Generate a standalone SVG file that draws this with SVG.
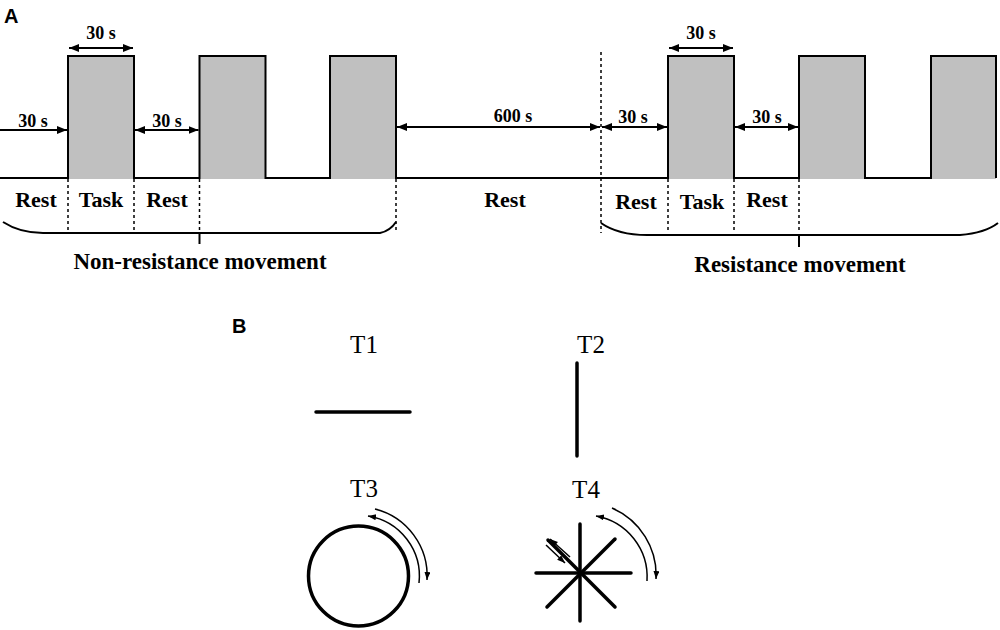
<svg xmlns="http://www.w3.org/2000/svg" width="1000" height="630" viewBox="0 0 1000 630">
<style>
.lbl{font-family:"Liberation Serif","Times New Roman",serif;font-weight:bold;fill:#000}
.dur{font-size:18px;text-anchor:middle}
.phase{font-size:22px;text-anchor:middle}
.cond{font-size:23px;text-anchor:middle}
.panel{font-family:"Liberation Sans",Arial,sans-serif;font-weight:bold;font-size:20px;fill:#000}
.tl{font-family:"Liberation Serif","Times New Roman",serif;font-size:25px;text-anchor:middle;fill:#000}
.arr{stroke:#000;stroke-width:2;fill:none}
.dot{stroke:#000;stroke-width:1.5;stroke-dasharray:3,3;fill:none}
.brace{stroke:#000;stroke-width:2;fill:none}
.task{fill:#c0c0c0;stroke:none}
.thick{stroke:#000;stroke-width:3.5;fill:none;stroke-linecap:round}
.thin{stroke:#000;stroke-width:1.5;fill:none}
</style>
<defs>
<marker id="ah" markerUnits="userSpaceOnUse" markerWidth="12" markerHeight="10" refX="10" refY="4" orient="auto-start-reverse">
<path d="M0,0 L10,4 L0,8 z" fill="#000"/>
</marker>
<marker id="ahs" markerUnits="userSpaceOnUse" markerWidth="10" markerHeight="8" refX="8" refY="3" orient="auto">
<path d="M0,0 L8,3 L0,6 z" fill="#000"/>
</marker>
</defs>
<rect width="1000" height="630" fill="#fff"/>
<text class="panel" x="4" y="23">A</text>
<text class="panel" x="232" y="333">B</text>
<g id="signal">
<rect class="task" x="68" y="56" width="66" height="123"/>
<rect class="task" x="199.5" y="56" width="66" height="123"/>
<rect class="task" x="330" y="56" width="66" height="123"/>
<rect class="task" x="668" y="56" width="66" height="123"/>
<rect class="task" x="799" y="56" width="66" height="123"/>
<rect class="task" x="931" y="56" width="65" height="123"/>
<path d="M0,178 H68 V56 H134 V178 H199.5 V56 H265.5 V178 H330 V56 H396 V178 H668 V56 H734 V178 H799 V56 H865 V178 H931 V56 H996 V178" stroke="#000" stroke-width="2" fill="none"/>
</g>
<g id="connectors">
<line class="arr" x1="0" y1="130" x2="67" y2="130" marker-end="url(#ah)"/>
<line class="arr" x1="69" y1="48" x2="133" y2="48" marker-start="url(#ah)" marker-end="url(#ah)"/>
<line class="arr" x1="135" y1="130" x2="198.5" y2="130" marker-start="url(#ah)" marker-end="url(#ah)"/>
<line class="arr" x1="397" y1="127" x2="600" y2="127" marker-start="url(#ah)" marker-end="url(#ah)"/>
<line class="arr" x1="602" y1="127" x2="667" y2="127" marker-start="url(#ah)" marker-end="url(#ah)"/>
<line class="arr" x1="669" y1="48" x2="733" y2="48" marker-start="url(#ah)" marker-end="url(#ah)"/>
<line class="arr" x1="735" y1="127" x2="798" y2="127" marker-start="url(#ah)" marker-end="url(#ah)"/>
<line class="dot" x1="68" y1="179" x2="68" y2="233"/>
<line class="dot" x1="134" y1="179" x2="134" y2="233"/>
<line class="dot" x1="199.5" y1="179" x2="199.5" y2="233"/>
<line class="dot" x1="396" y1="179" x2="396" y2="233"/>
<line class="dot" x1="601" y1="52" x2="601" y2="233"/>
<line class="dot" x1="668" y1="179" x2="668" y2="233"/>
<line class="dot" x1="734" y1="179" x2="734" y2="233"/>
<line class="dot" x1="799" y1="179" x2="799" y2="233"/>
<path class="brace" d="M3,222 Q20,233 43,233 H380 Q390,231 396,222"/>
<line class="brace" x1="199.5" y1="233" x2="199.5" y2="244"/>
<path class="brace" d="M601,223 Q618,235 647,235 H960 Q985,233 998,223"/>
<line class="brace" x1="799" y1="235" x2="799" y2="247"/>
</g>
<g id="labels-a">
<text class="lbl dur" x="101" y="39">30 s</text>
<text class="lbl dur" x="33" y="127">30 s</text>
<text class="lbl dur" x="167" y="127">30 s</text>
<text class="lbl dur" x="513" y="122">600 s</text>
<text class="lbl dur" x="633" y="123">30 s</text>
<text class="lbl dur" x="701" y="39">30 s</text>
<text class="lbl dur" x="767" y="123">30 s</text>
<text class="lbl phase" x="36" y="207">Rest</text>
<text class="lbl phase" x="101" y="207">Task</text>
<text class="lbl phase" x="167" y="207">Rest</text>
<text class="lbl phase" x="505" y="207">Rest</text>
<text class="lbl phase" x="636" y="209">Rest</text>
<text class="lbl phase" x="702" y="209">Task</text>
<text class="lbl phase" x="767" y="207">Rest</text>
<text class="lbl cond" x="200" y="269">Non-resistance movement</text>
<text class="lbl cond" x="800" y="272">Resistance movement</text>
</g>
<g id="T1">
<text class="tl" x="364" y="353">T1</text>
<line class="thick" x1="316" y1="412" x2="410" y2="412"/>
</g>
<g id="T2">
<text class="tl" x="591" y="353">T2</text>
<line class="thick" x1="577" y1="363" x2="577" y2="456"/>
</g>
<g id="T3">
<text class="tl" x="364" y="497">T3</text>
<circle cx="358.5" cy="576" r="50" stroke="#000" stroke-width="3.5" fill="none"/>
<path class="thin" d="M375,509 A69,69 0 0 1 427,580" marker-end="url(#ahs)"/>
<path class="thin" d="M419,583 A61,61 0 0 0 368,516" marker-end="url(#ahs)"/>
</g>
<g id="T4">
<text class="tl" x="586" y="498">T4</text>
<line class="thick" x1="580" y1="524" x2="580" y2="621"/>
<line class="thick" x1="536" y1="573" x2="631" y2="573"/>
<line class="thick" x1="547" y1="607" x2="615" y2="539"/>
<line class="thick" x1="548" y1="540" x2="615" y2="607"/>
<line class="thin" x1="570" y1="557" x2="550" y2="539" marker-end="url(#ahs)"/>
<line class="thin" x1="546" y1="545" x2="565" y2="563" marker-end="url(#ahs)"/>
<path class="thin" d="M612,508 A73,73 0 0 1 656,579" marker-end="url(#ahs)"/>
<path class="thin" d="M647,581 A62,62 0 0 0 596,516" marker-end="url(#ahs)"/>
</g>
</svg>
